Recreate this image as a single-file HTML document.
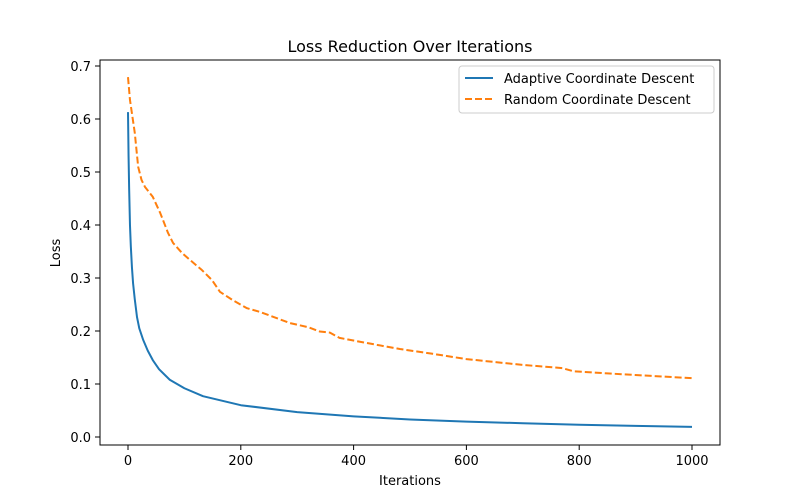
<!DOCTYPE html>
<html><head><meta charset="utf-8"><style>
body{margin:0;background:#fff;}
svg{display:block;font-family:"DejaVu Sans","Liberation Sans",sans-serif;}
</style></head><body>
<svg id="chart" width="800" height="500" xmlns="http://www.w3.org/2000/svg">
<rect width="800" height="500" fill="#fff"/>
<text x="410" y="52" text-anchor="middle" font-size="16">Loss Reduction Over Iterations</text>
<g id="marks"></g>
<g id="axes"></g>
<rect x="100" y="60" width="620" height="385" fill="none" stroke="#000" stroke-width="1"/>
<text x="410" y="485" text-anchor="middle" font-size="13">Iterations</text>
<text x="60" y="253" text-anchor="middle" font-size="13" transform="rotate(-90 60 253)">Loss</text>
<g>
<rect x="459" y="66" width="255" height="47" rx="3" fill="#fff" stroke="#ccc"/>
<line x1="465" y1="78" x2="493" y2="78" stroke="#1f77b4" stroke-width="2"/>
<text x="504" y="83" font-size="13">Adaptive Coordinate Descent</text>
<line x1="465" y1="99" x2="493" y2="99" stroke="#ff7f0e" stroke-width="2" stroke-dasharray="7,3"/>
<text x="504" y="104" font-size="13">Random Coordinate Descent</text>
</g>
</svg>
<script>
const adaptiveX=[0,1,2,3.5,5,7,9,12,16,20,27,35,44,55,74,100,133,200,300,400,500,600,700,800,900,1000];
const adaptiveY=[0.613,0.53,0.47,0.40,0.36,0.32,0.29,0.26,0.226,0.205,0.183,0.163,0.145,0.128,0.108,0.092,0.077,0.06,0.047,0.039,0.033,0.029,0.026,0.023,0.021,0.019];
const randomX=[0,3.5,12,18,24,30,44,57,71,80,96,110,131,149,163,186,211,234,287,320,340,358,375,420,482,540,600,700,770,790,850,1000];
const randomY=[0.679,0.636,0.574,0.51,0.485,0.472,0.453,0.423,0.385,0.366,0.347,0.334,0.315,0.296,0.274,0.258,0.243,0.236,0.215,0.207,0.199,0.197,0.187,0.178,0.166,0.157,0.147,0.136,0.130,0.124,0.120,0.111];
const xTicks=[0,200,400,600,800,1000];
const yTicks=[0.0,0.1,0.2,0.3,0.4,0.5,0.6,0.7];
const NS="http://www.w3.org/2000/svg";
const xs=v=>128+v*0.564;
const ys=v=>437-v*530;
const marks=document.getElementById('marks'),axes=document.getElementById('axes');
function line(xa,ya,color,dash,name){
  const p=document.createElementNS(NS,'polyline');
  p.setAttribute('points',xa.map((x,i)=>xs(x)+','+ys(ya[i])).join(' '));
  p.setAttribute('fill','none');p.setAttribute('stroke',color);p.setAttribute('stroke-width','2');
  p.setAttribute('stroke-linejoin','round');
  if(dash)p.setAttribute('stroke-dasharray',dash);
  
  
  marks.appendChild(p);
}
line(adaptiveX,adaptiveY,'#1f77b4',null,'adaptive-series');
line(randomX,randomY,'#ff7f0e','7,3','random-series');
xTicks.forEach(t=>{
  const l=document.createElementNS(NS,'line');
  l.setAttribute('x1',xs(t));l.setAttribute('x2',xs(t));l.setAttribute('y1',445);l.setAttribute('y2',450);l.setAttribute('stroke','#000');
  
  
  axes.appendChild(l);
  const tx=document.createElementNS(NS,'text');
  tx.setAttribute('x',xs(t));tx.setAttribute('y',465);tx.setAttribute('text-anchor','middle');tx.setAttribute('font-size','13');
  tx.textContent=t;
  
  
  axes.appendChild(tx);
});
yTicks.forEach(t=>{
  const l=document.createElementNS(NS,'line');
  l.setAttribute('x1',95);l.setAttribute('x2',100);l.setAttribute('y1',ys(t));l.setAttribute('y2',ys(t));l.setAttribute('stroke','#000');
  
  
  axes.appendChild(l);
  const tx=document.createElementNS(NS,'text');
  tx.setAttribute('x',91);tx.setAttribute('y',ys(t)+5);tx.setAttribute('text-anchor','end');tx.setAttribute('font-size','13');
  tx.textContent=t.toFixed(1);
  
  
  axes.appendChild(tx);
});
</script>
</body></html>
